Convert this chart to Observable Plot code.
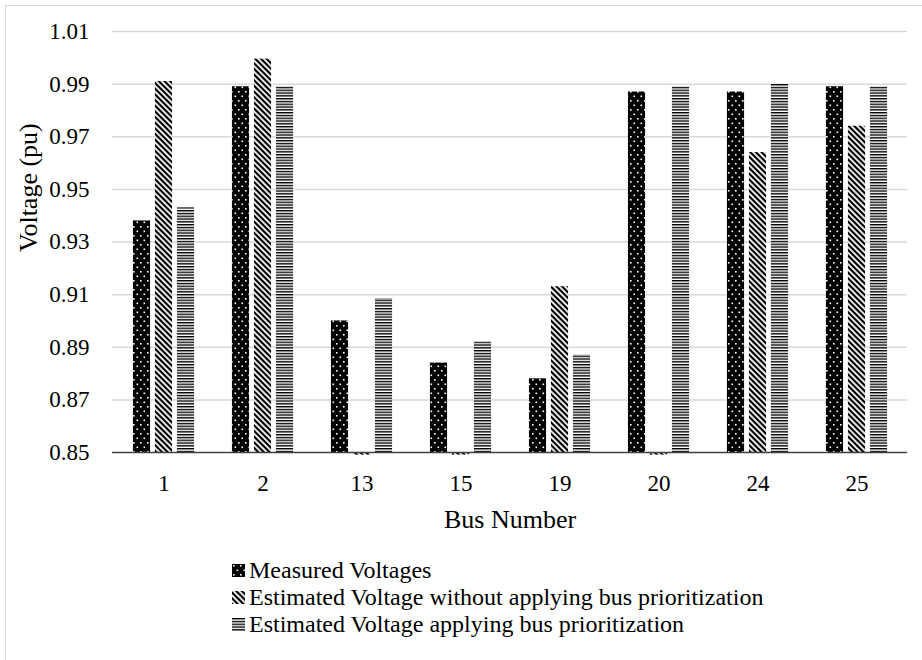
<!DOCTYPE html>
<html>
<head>
<meta charset="utf-8">
<script src="https://cdn.jsdelivr.net/npm/d3@7"></script>
<script src="https://cdn.jsdelivr.net/npm/@observablehq/plot@0.6"></script>
<style>
  html, body { margin: 0; padding: 0; background: #fff; }
  #page { position: relative; width: 922px; height: 660px; overflow: hidden; background: #fff; }
  #frame { position: absolute; left: 5px; top: 5px; width: 940px; height: 700px;
           border-left: 1px solid #d9d9d9; border-top: 1px solid #d9d9d9; box-sizing: border-box; }
  #chart { position: absolute; left: 0; top: 0; }
  #legend { position: absolute; left: 232px; top: 557px;
            font-family: "Liberation Serif", "Times New Roman", serif; font-size: 24px;
            line-height: 27px; color: #000; }
  .item { display: flex; align-items: center; white-space: nowrap; }
  .item svg { margin-right: 4px; flex: none; }
  #chart svg [aria-label="x-axis label"] { font-size: 26px; }
  #defs { position: absolute; left: 0; top: 0; width: 0; height: 0; }
</style>
</head>
<body>
<div id="page">
  <svg id="defs" width="0" height="0">
    <defs>
      <pattern id="pat-dots" patternUnits="userSpaceOnUse" width="7" height="9">
        <rect width="7" height="9" fill="#000"></rect>
        <rect x="1" y="1" width="1.6" height="1.6" fill="#fff"></rect>
        <rect x="4.5" y="5.5" width="1.6" height="1.6" fill="#fff"></rect>
      </pattern>
      <pattern id="pat-diag" patternUnits="userSpaceOnUse" width="4" height="4" patternTransform="rotate(45)">
        <rect width="4" height="4" fill="#fff"></rect>
        <rect width="4" height="2.2" fill="#000"></rect>
      </pattern>
      <pattern id="pat-horiz" patternUnits="userSpaceOnUse" width="4" height="2.8">
        <rect width="4" height="2.8" fill="#fff"></rect>
        <rect width="4" height="1.4" fill="#000"></rect>
      </pattern>
    </defs>
  </svg>
  <div id="frame"></div>
  <div id="chart"></div>
  <div id="legend"></div>
</div>
<script>
// ---- data ----
const buses = ["1", "2", "13", "15", "19", "20", "24", "25"];
const measured    = [0.938, 0.989, 0.900, 0.884, 0.878, 0.987, 0.987, 0.989];
const withoutPrio = [0.991, 0.9995, 0.849, 0.849, 0.913, 0.849, 0.964, 0.974];
const withPrio    = [0.943, 0.989, 0.9085, 0.892, 0.887, 0.989, 0.990, 0.989];
const seriesNames = [
  "Measured Voltages",
  "Estimated Voltage without applying bus prioritization",
  "Estimated Voltage applying bus prioritization"
];
const yTicks = [0.85, 0.87, 0.89, 0.91, 0.93, 0.95, 0.97, 0.99, 1.01];
const xTitle = "Bus Number";
const yTitle = "Voltage (pu)";

// ---- styling ----
const patterns = ["url(#pat-dots)", "url(#pat-diag)", "url(#pat-horiz)"];
const offsets = [-22, 0, 22];
const barWidth = 17.5;

const seriesValues = [measured, withoutPrio, withPrio];
const rows = seriesValues.map((vals, i) =>
  buses.map((b, j) => ({bus: b, value: vals[j], series: seriesNames[i]})));

const W = 922, H = 545;
const mL = 112, mR = 15, mT = 31, mB = 93;
const band = (W - mL - mR) / buses.length;
const inset = (band - barWidth) / 2;
const yMin = yTicks[0], yMax = yTicks[yTicks.length - 1];

const barMarks = rows.map((data, i) =>
  Plot.barY(data, {
    x: "bus",
    y1: () => yMin,
    y2: "value",
    fill: patterns[i],
    dx: offsets[i],
    insetLeft: inset,
    insetRight: inset
  }));

const chart = Plot.plot({
  width: W,
  height: H,
  marginLeft: mL,
  marginRight: mR,
  marginTop: mT,
  marginBottom: mB,
  style: {fontFamily: "'Liberation Serif', 'Times New Roman', serif", fontSize: "23px", color: "#000", background: "transparent"},
  x: {
    type: "band",
    domain: buses,
    paddingInner: 0,
    paddingOuter: 0,
    tickSize: 0,
    tickPadding: 22,
    label: xTitle,
    labelAnchor: "center",
    labelOffset: 75
  },
  y: {
    domain: [yMin, yMax],
    ticks: yTicks,
    tickFormat: d3.format(".2f"),
    tickSize: 0,
    tickPadding: 23,
    label: null
  },
  marks: [
    Plot.ruleY(yTicks.slice(1), {stroke: "#d9d9d9", strokeWidth: 1.5}),
    ...barMarks,
    Plot.ruleY([yMin], {stroke: "#404040", strokeWidth: 1.5}),
    Plot.text([yTitle], {
      text: d => d,
      frameAnchor: "left",
      rotate: -90,
      dx: -84,
      dy: 10,
      fontSize: 26,
      fill: "#000"
    })
  ]
});
document.getElementById("chart").appendChild(chart);

// ---- legend ----
const legend = document.getElementById("legend");
seriesNames.forEach((name, i) => {
  const item = document.createElement("div");
  item.className = "item";
  const sw = document.createElementNS("http://www.w3.org/2000/svg", "svg");
  sw.setAttribute("width", "13");
  sw.setAttribute("height", "13");
  const r = document.createElementNS("http://www.w3.org/2000/svg", "rect");
  r.setAttribute("width", "13");
  r.setAttribute("height", "13");
  r.setAttribute("fill", patterns[i]);
  sw.appendChild(r);
  item.appendChild(sw);
  const t = document.createElement("span");
  t.textContent = name;
  item.appendChild(t);
  legend.appendChild(item);
});
</script>
</body>
</html>
